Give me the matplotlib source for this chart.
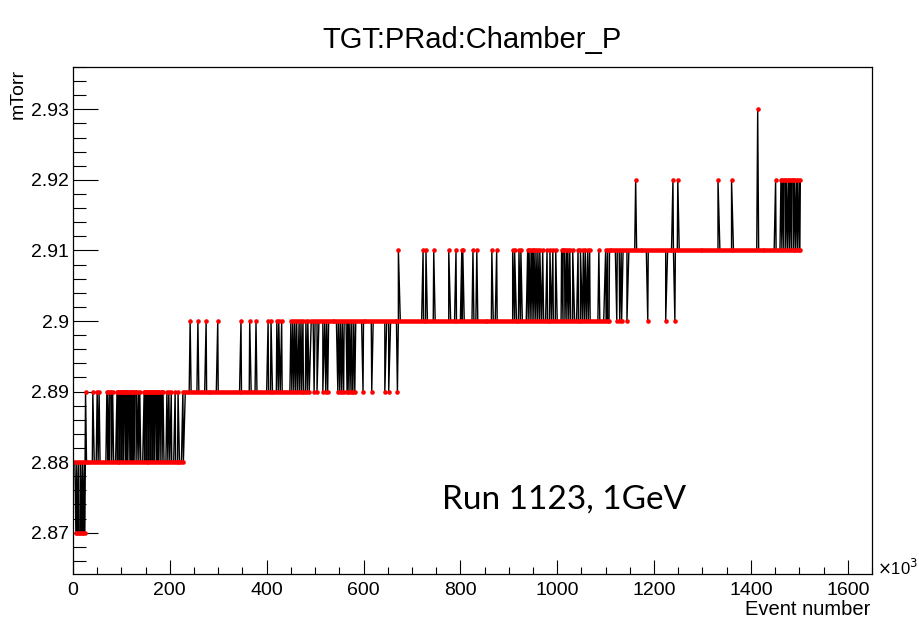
import numpy as np
import matplotlib
matplotlib.use("Agg")
import matplotlib.pyplot as plt
from matplotlib.ticker import MultipleLocator

plt.rcParams['font.family'] = ['Liberation Sans', 'DejaVu Sans']

# readout of TGT:PRad:Chamber_P vs event number (x1000 events)
readout_step = 4
last_event = 1501
baseline_start = [0, 231, 490, 1100]
baseline_value = [2.88, 2.89, 2.90, 2.91]

# excursions away from the baseline, event numbers (k)
dips_287 = [6, 9, 12, 15, 18, 21, 24]
spikes_289 = [26, 41, 50, 54, 70, 72, 76, 79, 82, 91, 93, 95, 97, 99, 101, 103, 105,
              107, 110, 112, 114, 117, 119, 121, 123, 125, 128, 131, 135, 138, 147,
              149, 151, 153, 155, 157, 159, 161, 163, 165, 167, 169, 171, 174, 176,
              178, 181, 183, 186, 194, 198, 203, 211, 217, 227]
spikes_290 = [242, 258, 275, 299, 347, 365, 378, 403, 409, 421, 425, 431, 450, 454,
              458, 462, 467, 471, 475, 481, 485]
dips_289 = [498, 504, 516, 522, 526, 547, 551, 555, 559, 566, 568, 572, 576, 578,
            582, 599, 617, 644, 652, 670]
spikes_291 = [672, 723, 729, 745, 776, 791, 803, 805, 826, 834, 865, 875, 908, 912,
              921, 925, 939, 942, 946, 949, 952, 956, 960, 964, 970, 979, 985, 991,
              997, 1009, 1012, 1015, 1019, 1022, 1026, 1032, 1043, 1048, 1054, 1058,
              1063, 1067, 1086]
dips_290 = [1101, 1104, 1107, 1123, 1129, 1133, 1144, 1187, 1224, 1243]
spikes_292 = [1162, 1239, 1249, 1332, 1360, 1451, 1462, 1465, 1468, 1471, 1474, 1478,
              1481, 1484, 1487, 1490, 1494, 1497, 1501]
spikes_293 = [1414]

# baseline readouts
ev = np.arange(0, last_event, readout_step, dtype=float)
seg = np.searchsorted(baseline_start, ev, side='right') - 1
val = np.array(baseline_value)[seg]

extra = [(dips_287, 2.87), (spikes_289, 2.89), (spikes_290, 2.90), (dips_289, 2.89),
         (spikes_291, 2.91), (dips_290, 2.90), (spikes_292, 2.92), (spikes_293, 2.93)]
ev_all = list(ev)
val_all = list(val)
for events, v in extra:
    ev_all += events
    val_all += [v] * len(events)
ev_all.append(last_event)
val_all.append(2.91)
order = np.argsort(np.array(ev_all), kind='stable')
x = np.array(ev_all)[order]
y = np.array(val_all)[order]

fig = plt.figure(figsize=(9.2, 6.23), dpi=100)
ax = fig.add_axes([0.0793, 0.0787, 0.8685, 0.8138])
ax.plot(x, y, color='black', lw=1.0, marker='o', ms=3.3, mfc='red', mec='red', mew=0)

ax.set_xlim(0, 1650)
ax.set_ylim(2.86415, 2.936)
ax.xaxis.set_major_locator(MultipleLocator(200))
ax.xaxis.set_minor_locator(MultipleLocator(50))
ax.yaxis.set_minor_locator(MultipleLocator(0.002))
ax.set_yticks([2.87, 2.88, 2.89, 2.90, 2.91, 2.92, 2.93])
ax.set_yticklabels(['2.87', '2.88', '2.89', '2.9', '2.91', '2.92', '2.93'])
ax.tick_params(axis='both', which='both', direction='in', width=0.8, labelsize=14,
               top=False, right=False)
ax.tick_params(axis='y', which='major', length=18, pad=3)
ax.tick_params(axis='y', which='minor', length=9)
ax.tick_params(axis='x', which='major', length=10, pad=6)
ax.tick_params(axis='x', which='minor', length=5)
for s in ax.spines.values():
    s.set_linewidth(0.9)

fig.text(0.513, 0.936, 'TGT:PRad:Chamber_P', ha='center', va='center', fontsize=21)
fig.text(0.946, 0.021, 'Event number', ha='right', va='center', fontsize=14.5)
fig.text(0.953, 0.088, r'$\times$10$^{3}$', ha='left', va='center', fontsize=12)
fig.text(0.02, 0.89, 'mTorr', ha='center', va='top', rotation=90, fontsize=14)
fig.text(0.48, 0.198, 'Run 1123, 1GeV', ha='left', va='center', fontsize=24,
         family=['Lato', 'DejaVu Sans'])

fig.savefig('out.png', dpi=100)
